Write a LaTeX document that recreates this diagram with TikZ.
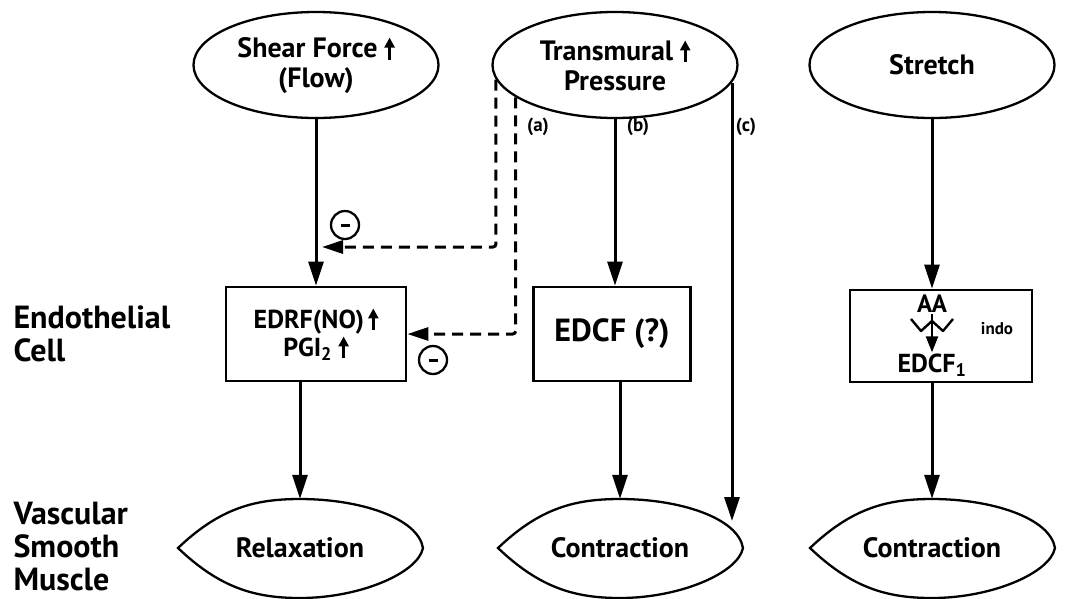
\documentclass[tikz,border=0pt]{standalone}
\usepackage{fontspec}
\setmainfont{PT Sans}
\usetikzlibrary{positioning, arrows.meta, shapes.geometric}

% small up arrow used inside the texts
\newcommand{\upar}{\tikz[baseline=0pt]\draw[line width=2.6pt, -{Triangle[length=10pt,width=10pt]}] (0pt,-2pt) -- (0pt,20pt);}
% lens outline of the muscle nodes
\newcommand{\lensline}[1]{\draw[line width=2.3pt, shift={(#1.center)}]
  (-122,0) .. controls (-80,-40) and (-45,-49) .. (0,-49)
  .. controls (60,-49) and (118,-30) .. (123,0)
  .. controls (118,25) and (60,50) .. (0,50)
  .. controls (-45,50) and (-80,40) .. cycle;}

\begin{document}
\begin{tikzpicture}[
    x=1pt, y=-1pt,
    font=\bfseries\fontsize{28}{30}\selectfont,
    oval/.style={ellipse, draw, line width=2.3pt, minimum width=245pt,
                 minimum height=106pt, align=center, inner sep=0pt},
    cellbox/.style={rectangle, draw, line width=2.8pt, minimum height=94pt,
                    align=center},
    lens/.style={minimum width=245pt, minimum height=98pt, inner sep=0pt},
    side/.style={align=left, anchor=west,
                 font=\bfseries\fontsize{32}{33}\selectfont},
    arrow/.style={-{Triangle[length=24pt,width=15pt]}, line width=3pt},
    dasharrow/.style={line width=3pt, dash pattern=on 11pt off 7pt,
                      -{Triangle[length=21pt,width=13pt]}},
    minus/.style={circle, draw, line width=2.3pt, minimum size=28pt,
                  inner sep=0pt},
    tag/.style={font=\bfseries\fontsize{19}{20}\selectfont}
]
\useasboundingbox (0,0) rectangle (1065,598);

% stimuli
\node[oval] (shear) at (316,65) {Shear Force \upar\\(Flow)};
\node[oval] (trans) at (615,65) {Transmural \upar\\Pressure};
\node[oval] (stretch) at (932,65) {Stretch};

% endothelial cell
\node[side] (endo) at (10,334) {Endothelial\\Cell};
\node[cellbox, minimum width=180pt, font=\bfseries\fontsize{26}{26}\selectfont]
     (edrf) at (316,334) {EDRF(NO)\,\upar\\PGI\textsubscript{2} \upar};
\node[cellbox, minimum width=157pt, font=\bfseries\fontsize{32}{32}\selectfont]
     (edcf) at (612,334) {EDCF (?)};
\node[cellbox, minimum width=182pt, minimum height=92pt] (strbox) at (941,336) {};
\node[inner sep=1pt, font=\bfseries\fontsize{25}{25}\selectfont] (aa) at (932,304) {AA};
\node[inner sep=1pt, font=\bfseries\fontsize{26}{26}\selectfont] (edcfone) at (932,365) {EDCF\textsubscript{1}};
\node[tag, font=\bfseries\fontsize{17}{18}\selectfont] (indo) at (997,329) {indo};

% vascular smooth muscle
\node[side] (vsm) at (10,547) {Vascular\\Smooth\\Muscle};
\node[lens] (relax) at (300,548) {Relaxation};
\node[lens] (contr) at (620,548) {Contraction};
\node[lens] (contrb) at (932,548) {Contraction};
\lensline{relax}
\lensline{contr}
\lensline{contrb}

% connectors
\draw[arrow] (shear) -- (edrf);
\draw[arrow] (edrf.south -| relax.north) -- (relax.north);
\draw[arrow] (trans.south) -- (trans.south |- edcf.north);
\draw[arrow] (contr.north |- edcf.south) -- (contr.north);
\coordinate (ctip) at (732,521);
\draw[arrow] (trans.-9 -| ctip) -- (ctip);
\draw[arrow] (stretch) -- (stretch |- strbox.north);
\draw[arrow] (contrb |- strbox.south) -- (contrb);

% AA -> EDCF1 with inhibition
\draw[line width=2.4pt, -{Triangle[length=16pt,width=12pt]}] (aa) -- (edcfone);
\draw[line width=2.4pt, line join=round]
  (911,319) -- (921,331) -- (932,321) -- (943,331) -- (953,319);

% dashed feedback
\coordinate (atip) at (322,247);
\draw[dasharrow, rounded corners=3pt] (trans.187) |- (atip);
\draw[dasharrow, rounded corners=3pt] (trans.198) |- (edrf.east);
\node[minus] (mina) at (345,225) {\rule{9pt}{3pt}};
\node[minus] (minb) at (433,360) {\rule{9pt}{3pt}};

\node[tag] (la) at (538,127) {(a)};
\node[tag] (lb) at (638,127) {(b)};
\node[tag] (lc) at (746,127) {(c)};
\end{tikzpicture}
\end{document}
